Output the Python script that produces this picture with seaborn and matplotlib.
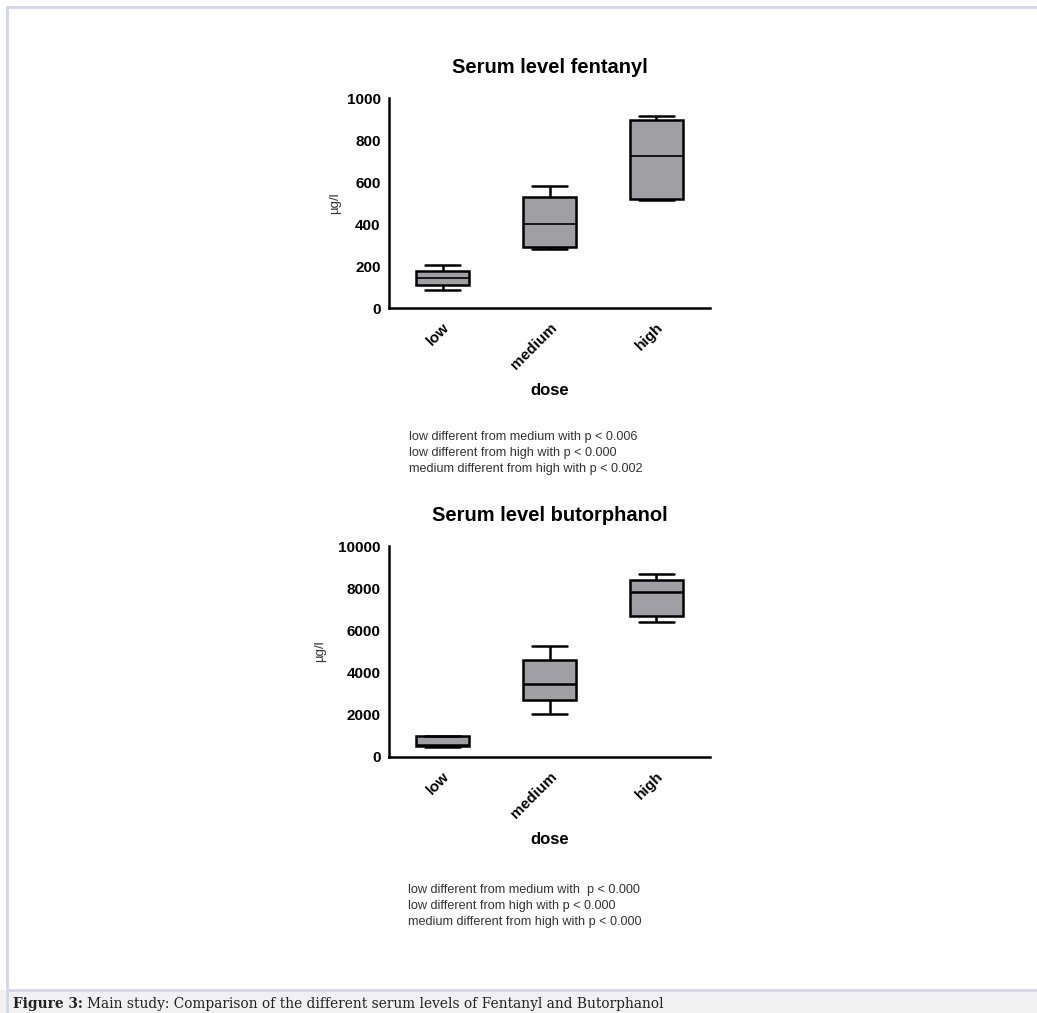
import numpy as np
import pandas as pd
import matplotlib
matplotlib.use("Agg")
import matplotlib.pyplot as plt
import matplotlib.transforms as mtransforms
import seaborn as sns

# Dose groups
doses = ["low", "medium", "high"]

# Five-number summaries (min, Q1, median, Q3, max) in µg/l
fentanyl_low = [87, 111, 143, 175, 206]
fentanyl_medium = [283, 290, 400, 529, 579]
fentanyl_high = [513, 521, 722, 894, 913]

butorphanol_low = [470, 500, 560, 980, 1000]
butorphanol_medium = [2054, 2717, 3444, 4613, 5245]
butorphanol_high = [6382, 6667, 7804, 8373, 8657]

fentanyl_notes = [
    "low different from medium with p < 0.006",
    "low different from high with p < 0.000",
    "medium different from high with p < 0.002",
]
butorphanol_notes = [
    "low different from medium with  p < 0.000",
    "low different from high with p < 0.000",
    "medium different from high with p < 0.000",
]

sns.set_style("white")
plt.rcParams["font.family"] = ["Liberation Sans", "DejaVu Sans"]
plt.rcParams["text.color"] = "black"
plt.rcParams["axes.labelcolor"] = "black"
plt.rcParams["xtick.color"] = "black"
plt.rcParams["ytick.color"] = "black"

W, H = 1037, 1013
fig = plt.figure(figsize=(W / 100, H / 100), dpi=100)
fig.patch.set_facecolor("white")


def frame(vals, title, ymax, ystep, axrect, median_lw, ylabel_x):
    df = pd.DataFrame({
        "dose": np.repeat(doses, 5),
        "value": np.concatenate(vals),
    })
    ax = fig.add_axes(axrect)
    sns.boxplot(data=df, x="dose", y="value", order=doses, ax=ax,
                color="#a0a0a4", saturation=1, width=0.5, whis=(0, 100),
                linecolor="black", linewidth=1.8, fliersize=0,
                capwidths=0.32,
                medianprops=dict(linewidth=median_lw, color="black"))
    ax.set_xlim(-0.5, 2.5)
    ax.set_ylim(0, ymax)
    ticks = np.arange(0, ymax + 1, ystep)
    ax.set_yticks(ticks)
    ax.set_yticklabels([str(v) for v in ticks], fontsize=11, fontweight="bold")
    ax.set_xticks(range(3))
    ax.set_xticklabels(doses, rotation=45, ha="right", va="top",
                       rotation_mode="anchor", fontsize=11, fontweight="bold")
    shift = mtransforms.ScaledTranslation(-5 / 100, 0, fig.dpi_scale_trans)
    for lab in ax.get_xticklabels():
        lab.set_transform(lab.get_transform() + shift)
    for s in ("top", "right"):
        ax.spines[s].set_visible(False)
    for s in ("left", "bottom"):
        ax.spines[s].set_linewidth(1.8)
        ax.spines[s].set_color("black")
    ax.tick_params(axis="both", direction="out", length=5, width=1.8,
                   color="black", pad=1)
    ax.tick_params(axis="x", pad=4)
    ax.set_xlabel("dose", fontsize=12, fontweight="bold", labelpad=8)
    ax.set_ylabel("µg/l", fontsize=9.5, color="#333333")
    ax.yaxis.set_label_coords(ylabel_x, 0.5)
    ax.set_title(title, fontsize=14.5, fontweight="bold", pad=18)
    ax.set_facecolor("white")
    return ax


ax1 = frame([fentanyl_low, fentanyl_medium, fentanyl_high],
            "Serum level fentanyl", 1000, 200,
            [389 / W, 1 - 308 / H, 321 / W, 210 / H], 1.2, -0.15)
ax2 = frame([butorphanol_low, butorphanol_medium, butorphanol_high],
            "Serum level butorphanol", 10000, 2000,
            [389 / W, 1 - 757 / H, 321 / W, 211 / H], 1.8, -0.195)

note_font = ["Liberation Sans", "DejaVu Sans"]
for i, line in enumerate(fentanyl_notes):
    fig.text(409 / W, 1 - (437 + 16 * i) / H, line, fontsize=9.1,
             color="#333333", family=note_font, va="center", ha="left")
for i, line in enumerate(butorphanol_notes):
    fig.text(408 / W, 1 - (890 + 16 * i) / H, line, fontsize=9.1,
             color="#333333", family=note_font, va="center", ha="left")

# Page frame and caption strip
border = "#d4d4ec"
fig.add_artist(plt.Rectangle((0, 0), 1, (H - 990) / H,
                             facecolor="#f1f1f1", edgecolor="none",
                             transform=fig.transFigure))
fig.add_artist(plt.Line2D([7 / W, 1], [1 - 7 / H, 1 - 7 / H],
                          color=border, lw=2, transform=fig.transFigure))
fig.add_artist(plt.Line2D([7 / W, 7 / W], [1 - 7 / H, 0],
                          color=border, lw=2, transform=fig.transFigure))
fig.add_artist(plt.Line2D([7 / W, 1], [1 - 990 / H, 1 - 990 / H],
                          color=border, lw=2, transform=fig.transFigure))
serif = ["DejaVu Serif"]
t1 = fig.text(13 / W, 1 - 1004 / H, "Figure 3:", fontsize=9.9,
              fontweight="bold", family=serif, color="#222222",
              va="center", ha="left")
fig.canvas.draw()
bb = t1.get_window_extent()
fig.text((bb.x1 + 4) / W, 1 - 1004 / H,
         "Main study: Comparison of the different serum levels of Fentanyl and Butorphanol",
         fontsize=9.9, family=serif, color="#222222", va="center", ha="left")

fig.savefig("out.png", dpi=100, facecolor="white")
